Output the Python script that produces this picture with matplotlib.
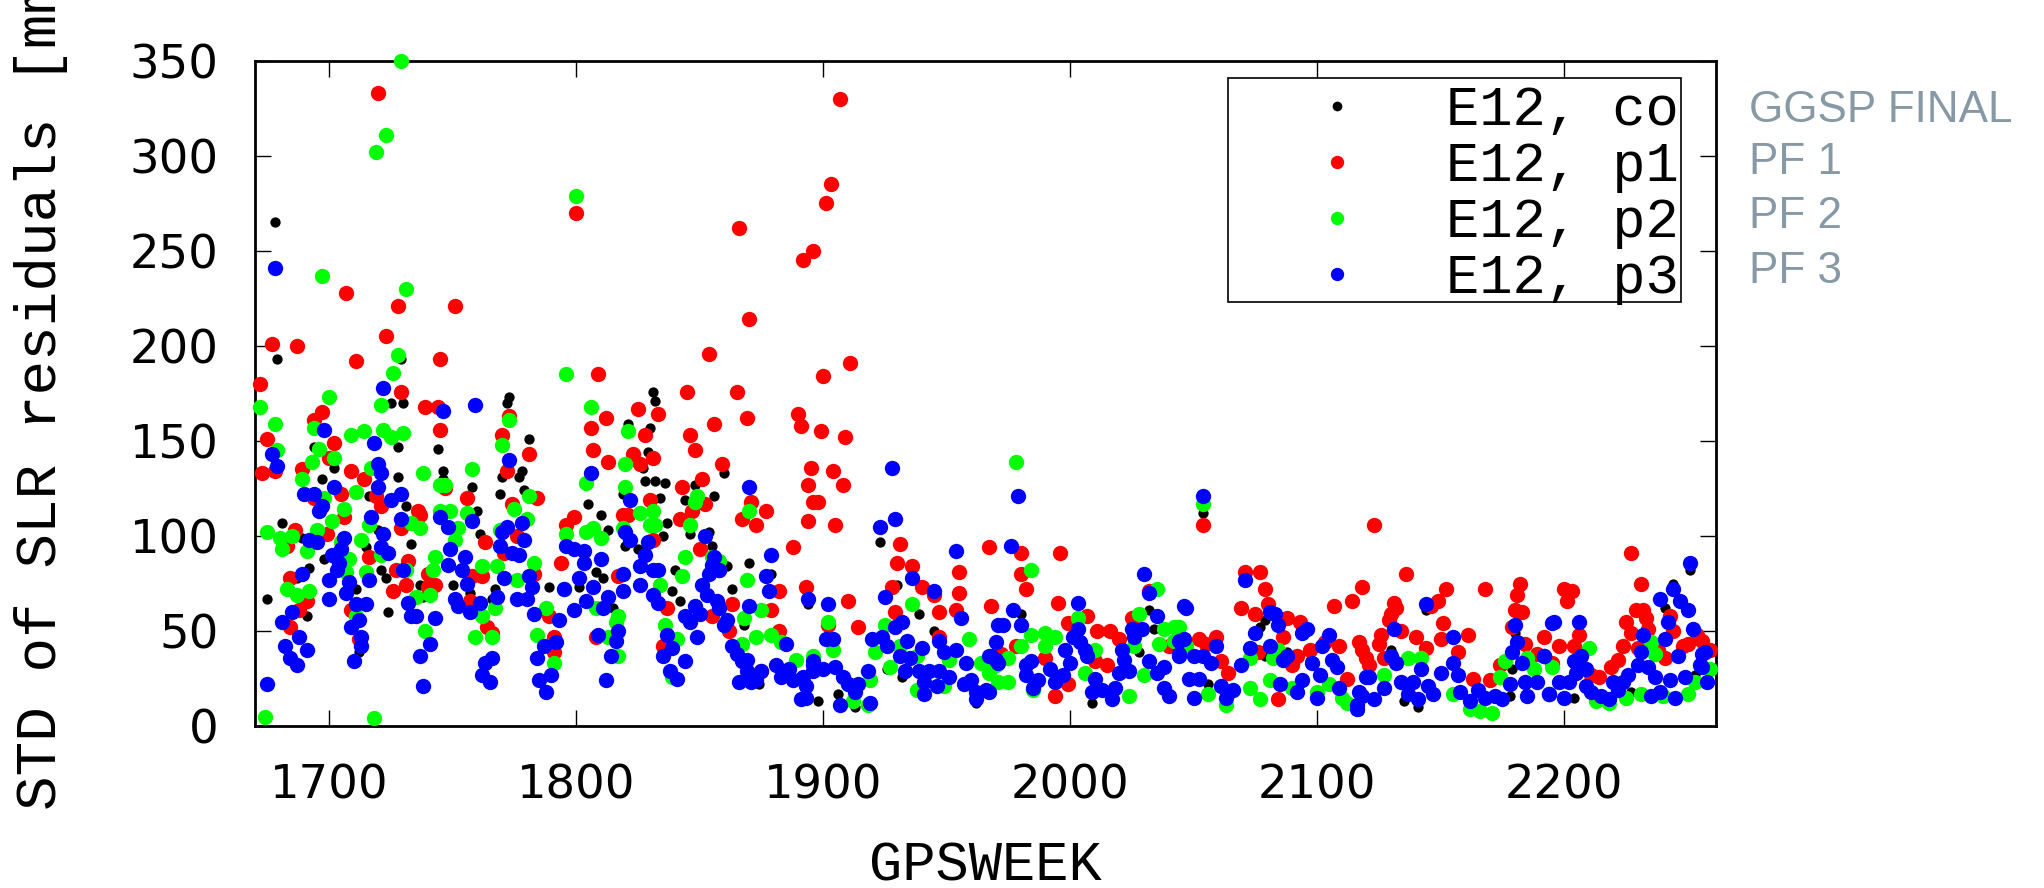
import matplotlib
matplotlib.use("Agg")
import matplotlib.pyplot as plt
from matplotlib.patches import Rectangle
from matplotlib.lines import Line2D

# ---------------- data (GPS week, STD of SLR residuals [mm]) ----------------
co_points = [
    (1678, 265), (1679, 193), (1729, 193), (1725, 170), (1730, 170), (1744, 146), (1728, 147),
    (1694, 147), (1697, 130), (1702, 136), (1728, 131), (1746, 130), (1716, 121), (1681, 107),
    (1689, 99), (1698, 88), (1715, 94), (1720, 103), (1731, 116), (1733, 96), (1721, 82),
    (1723, 78), (1711, 72), (1675, 67), (1724, 60), (1737, 74), (1738, 68), (1712, 39),
    (1691, 58), (1687, 78), (1692, 83),
    (1773, 173), (1772, 170), (1781, 151), (1746, 134), (1758, 126), (1778, 134), (1777, 131),
    (1770, 131), (1821, 159), (1819, 122), (1769, 122), (1805, 117), (1810, 111), (1760, 113),
    (1761, 101), (1779, 124), (1813, 103), (1808, 81), (1811, 78), (1801, 73), (1750, 74),
    (1757, 70), (1767, 72), (1789, 73), (1766, 67), (1815, 62),
    (1831, 176), (1832, 171), (1830, 157), (1829, 144), (1827, 136), (1828, 129), (1832, 129),
    (1836, 128), (1834, 120), (1844, 119), (1848, 127), (1856, 121), (1860, 133), (1837, 107),
    (1835, 100), (1846, 101), (1854, 102), (1855, 95), (1870, 86), (1840, 82), (1861, 84),
    (1839, 71), (1842, 66), (1863, 72), (1868, 53), (1825, 93), (1820, 95), (1879, 80),
    (1894, 64), (1893, 21), (1874, 22),
    (1923, 97), (1930, 74), (1939, 59), (1945, 50), (1926, 30), (1898, 13), (1913, 10),
    (1906, 17), (1932, 26), (1962, 12),
    (1980, 59), (2032, 61), (2028, 39), (2009, 12), (2034, 51),
    (2054, 112), (2079, 56), (2077, 52), (2088, 39), (2097, 34), (2079, 37), (2056, 22),
    (2051, 15), (2116, 8),
    (2144, 61), (2180, 49), (2179, 30), (2141, 10), (2135, 13), (2162, 8), (2178, 16),
    (2130, 40), (2117, 8),
    (2244, 75), (2251, 82), (2241, 62), (2258, 22), (2204, 15), (2253, 27), (2227, 18),
]

p1_points = [
    (1720, 333), (1707, 228), (1728, 221), (1723, 205), (1677, 201), (1687, 200), (1711, 192),
    (1672, 180), (1729, 176), (1697, 165), (1694, 161), (1675, 151), (1702, 149), (1739, 168),
    (1745, 193), (1745, 156), (1673, 133), (1678, 134), (1689, 135), (1709, 134), (1714, 130),
    (1700, 141), (1719, 121), (1705, 122), (1721, 116), (1694, 120), (1736, 113), (1737, 111),
    (1706, 110), (1686, 103), (1699, 101), (1683, 95), (1729, 104), (1716, 89), (1727, 82),
    (1732, 87), (1684, 78), (1740, 80), (1726, 71), (1731, 74), (1691, 66), (1688, 61),
    (1709, 61), (1684, 52), (1740, 73), (1712, 46),
    (1751, 221), (1800, 270), (1809, 185), (1806, 157), (1812, 162), (1807, 145), (1813, 139),
    (1744, 168), (1770, 153), (1773, 163), (1781, 143), (1772, 134), (1747, 125), (1756, 120),
    (1774, 117), (1784, 120), (1763, 97), (1821, 111), (1799, 110), (1796, 106), (1794, 86),
    (1776, 100), (1783, 80), (1771, 91), (1758, 79), (1762, 79), (1757, 66), (1764, 52),
    (1766, 49), (1789, 58), (1791, 47), (1791, 39), (1808, 47), (1817, 79), (1743, 74),
    (1866, 262), (1892, 245), (1896, 250), (1870, 214), (1854, 196), (1845, 176), (1865, 176),
    (1825, 167), (1833, 164), (1890, 164), (1891, 158), (1856, 159), (1869, 162), (1846, 153),
    (1828, 153), (1848, 145), (1823, 143), (1826, 138), (1831, 141), (1859, 138), (1895, 136),
    (1851, 130), (1843, 126), (1894, 127), (1830, 119), (1852, 117), (1871, 118), (1896, 118),
    (1819, 111), (1847, 113), (1877, 113), (1842, 109), (1867, 109), (1873, 106), (1894, 108),
    (1831, 98), (1888, 94), (1850, 93), (1858, 82), (1882, 71), (1893, 73), (1837, 62),
    (1835, 42), (1879, 61), (1882, 50), (1863, 64), (1855, 58), (1862, 50), (1875, 29),
    (1907, 330), (1903, 285), (1901, 275), (1911, 191), (1900, 184), (1899, 155), (1909, 152),
    (1904, 134), (1908, 127), (1898, 118), (1905, 106), (1967, 94), (1931, 96), (1930, 86),
    (1936, 84), (1955, 81), (1928, 73), (1940, 73), (1945, 69), (1955, 70), (1910, 66),
    (1968, 63), (1929, 60), (1947, 60), (1954, 61), (1914, 52), (1902, 53), (1947, 47),
    (1980, 91), (1996, 91), (1980, 80), (1982, 72), (1995, 65), (2007, 58), (1999, 54),
    (2011, 50), (2016, 50), (2020, 46), (2025, 57), (2032, 71), (1990, 36), (2015, 32),
    (1999, 22), (1994, 16), (2040, 42), (1978, 42), (1972, 38), (2010, 34),
    (2054, 106), (2071, 81), (2077, 81), (2079, 72), (2069, 62), (2080, 64), (2088, 57),
    (2093, 55), (2086, 47), (2075, 59), (2107, 63), (2114, 66), (2118, 73), (2117, 44),
    (2052, 46), (2059, 47), (2055, 43), (2097, 40), (2109, 42), (2103, 44), (2092, 37),
    (2061, 34), (2064, 28), (2084, 14), (2076, 39), (2120, 36), (2090, 32), (2112, 25),
    (2123, 106), (2136, 80), (2152, 72), (2168, 72), (2182, 75), (2181, 69), (2131, 65),
    (2132, 62), (2149, 66), (2146, 63), (2130, 59), (2129, 56), (2180, 61), (2183, 60),
    (2151, 54), (2134, 50), (2126, 48), (2125, 43), (2140, 47), (2161, 48), (2150, 46),
    (2179, 52), (2192, 47), (2144, 41), (2118, 40), (2157, 39), (2184, 43), (2121, 32),
    (2174, 32), (2127, 36), (2163, 25), (2170, 24), (2189, 38),
    (2227, 91), (2200, 72), (2203, 71), (2201, 66), (2231, 75), (2229, 61), (2232, 61),
    (2233, 57), (2225, 55), (2234, 51), (2227, 49), (2243, 58), (2244, 50), (2206, 48),
    (2198, 42), (2204, 42), (2224, 42), (2230, 41), (2254, 48), (2256, 45), (2259, 40),
    (2250, 43), (2248, 42), (2238, 40), (2241, 36), (2222, 35), (2219, 31), (2214, 26),
    (2211, 27), (2195, 33),
]

p2_points = [
    (1729, 350), (1723, 311), (1719, 302), (1697, 237), (1731, 230), (1728, 195), (1726, 186),
    (1672, 168), (1700, 173), (1721, 169), (1678, 159), (1694, 157), (1709, 153), (1714, 155),
    (1722, 156), (1725, 152), (1730, 154), (1696, 146), (1679, 145), (1702, 141), (1693, 139),
    (1717, 136), (1738, 133), (1689, 130), (1711, 123), (1745, 127), (1698, 120), (1706, 114),
    (1701, 108), (1675, 102), (1680, 99), (1685, 100), (1695, 103), (1713, 98), (1716, 106),
    (1733, 107), (1737, 104), (1681, 93), (1691, 92), (1708, 88), (1705, 97), (1721, 90),
    (1743, 89), (1742, 82), (1715, 81), (1731, 82), (1707, 81), (1683, 72), (1687, 69),
    (1692, 71), (1741, 69), (1735, 68), (1711, 58), (1739, 50), (1674, 5), (1718, 4),
    (1800, 279), (1796, 185), (1806, 168), (1773, 161), (1770, 148), (1758, 135), (1747, 127),
    (1804, 128), (1821, 155), (1820, 138), (1820, 126), (1781, 121), (1775, 114), (1745, 113),
    (1749, 113), (1756, 112), (1752, 104), (1769, 103), (1780, 109), (1796, 101), (1804, 102),
    (1807, 104), (1810, 99), (1751, 98), (1819, 104), (1762, 84), (1768, 84), (1783, 86),
    (1776, 77), (1795, 72), (1767, 62), (1762, 58), (1759, 47), (1784, 48), (1788, 62),
    (1766, 47), (1816, 55), (1813, 47), (1808, 62), (1791, 33),
    (1831, 113), (1826, 112), (1849, 121), (1848, 118), (1832, 106), (1830, 106), (1846, 106),
    (1844, 89), (1870, 113), (1858, 87), (1855, 89), (1843, 79), (1834, 74), (1869, 77),
    (1875, 61), (1868, 57), (1836, 53), (1841, 46), (1873, 47), (1879, 48), (1867, 43),
    (1883, 44), (1889, 35), (1839, 26), (1817, 58), (1817, 37),
    (1936, 64), (1902, 55), (1925, 53), (1959, 46), (1904, 40), (1921, 39), (1896, 37),
    (1931, 42), (1938, 37), (1951, 35), (1964, 33), (1919, 24), (1910, 22), (1938, 19),
    (1949, 21), (1967, 29), (1970, 32), (1918, 11), (1912, 13), (1927, 31),
    (1978, 139), (1984, 82), (2035, 72), (2003, 57), (2028, 59), (1984, 48), (1990, 49),
    (1994, 47), (2038, 51), (2042, 52), (2010, 40), (1980, 42), (1975, 36), (1971, 23),
    (1975, 23), (2030, 27), (2024, 16), (1985, 19), (1967, 28), (2006, 28), (2036, 43),
    (1990, 42), (2026, 42),
    (2054, 117), (2044, 52), (2042, 45), (2047, 42), (2073, 36), (2084, 40), (2073, 20),
    (2077, 14), (2081, 24), (2056, 17), (2063, 11), (2082, 36), (2090, 20), (2100, 18),
    (2105, 22), (2110, 15), (2112, 12),
    (2137, 36), (2127, 27), (2142, 36), (2176, 34), (2185, 36), (2174, 26), (2155, 17),
    (2162, 9), (2166, 8), (2171, 7), (2188, 30),
    (2210, 41), (2235, 44), (2237, 38), (2259, 30), (2195, 31), (2231, 17), (2225, 15),
    (2218, 12), (2213, 13), (2250, 17), (2253, 23), (2240, 16),
]

p3_points = [
    (1678, 241), (1722, 178), (1698, 156), (1718, 149), (1677, 143), (1679, 137), (1720, 138),
    (1721, 133), (1702, 126), (1720, 126), (1690, 122), (1694, 122), (1725, 119), (1729, 122),
    (1697, 116), (1696, 113), (1745, 110), (1717, 110), (1729, 109), (1706, 99), (1722, 101),
    (1692, 98), (1695, 97), (1705, 93), (1721, 94), (1724, 91), (1701, 90), (1704, 86),
    (1703, 82), (1689, 80), (1730, 82), (1708, 76), (1716, 77), (1700, 77), (1707, 70),
    (1732, 65), (1733, 58), (1711, 64), (1715, 64), (1685, 60), (1735, 58), (1743, 57),
    (1681, 55), (1712, 56), (1709, 52), (1700, 67), (1688, 47), (1713, 47), (1682, 42),
    (1691, 40), (1713, 42), (1684, 36), (1741, 43), (1737, 37), (1687, 32), (1710, 34),
    (1675, 22), (1738, 21),
    (1759, 169), (1746, 166), (1773, 140), (1806, 133), (1748, 105), (1758, 108), (1770, 102),
    (1772, 105), (1778, 107), (1779, 98), (1796, 95), (1799, 93), (1803, 92), (1769, 95),
    (1774, 91), (1777, 90), (1749, 93), (1810, 88), (1755, 89), (1748, 85), (1754, 82),
    (1803, 86), (1820, 102), (1819, 80), (1781, 79), (1771, 78), (1756, 75), (1782, 73),
    (1801, 78), (1807, 73), (1795, 72), (1813, 68), (1819, 71), (1768, 68), (1776, 67),
    (1780, 67), (1804, 66), (1751, 67), (1752, 63), (1757, 60), (1761, 65), (1783, 59),
    (1793, 56), (1799, 61), (1811, 62), (1809, 48), (1817, 50), (1816, 45), (1787, 42),
    (1792, 44), (1784, 36), (1814, 37), (1766, 36), (1763, 33), (1762, 27), (1765, 23),
    (1785, 24), (1788, 18), (1790, 27), (1812, 24),
    (1870, 126), (1822, 119), (1852, 100), (1879, 90), (1877, 79), (1878, 71), (1822, 98),
    (1829, 97), (1828, 90), (1826, 84), (1833, 82), (1831, 82), (1856, 89), (1855, 85),
    (1854, 80), (1858, 82), (1826, 74), (1851, 74), (1831, 69), (1853, 69), (1833, 65),
    (1848, 63), (1857, 66), (1858, 62), (1870, 63), (1894, 67), (1844, 58), (1846, 55),
    (1850, 59), (1861, 56), (1860, 53), (1849, 47), (1837, 48), (1839, 41), (1835, 37),
    (1863, 42), (1865, 38), (1885, 43), (1838, 29), (1844, 34), (1841, 25), (1867, 34),
    (1869, 35), (1875, 29), (1873, 24), (1866, 23), (1881, 32), (1883, 26), (1886, 30),
    (1888, 24), (1892, 26), (1896, 32), (1891, 14), (1893, 21), (1871, 23), (1869, 29),
    (1928, 136), (1929, 109), (1923, 105), (1954, 92), (1936, 78), (1945, 71), (1925, 68),
    (1902, 64), (1956, 57), (1932, 55), (1901, 46), (1904, 46), (1920, 46), (1971, 53),
    (1929, 52), (1924, 47), (1934, 45), (1940, 41), (1947, 45), (1954, 40), (1949, 39),
    (1926, 42), (1931, 37), (1935, 36), (1896, 34), (1905, 31), (1900, 30), (1896, 29),
    (1918, 29), (1933, 29), (1939, 29), (1943, 29), (1947, 29), (1958, 33), (1951, 26),
    (1941, 23), (1946, 21), (1941, 17), (1908, 26), (1910, 22), (1914, 22), (1913, 18),
    (1907, 11), (1919, 12), (1957, 22), (1960, 24), (1962, 18), (1962, 14), (1966, 19),
    (1968, 37), (1970, 35), (1893, 15),
    (1979, 121), (1976, 95), (2030, 80), (2032, 70), (2003, 65), (1977, 61), (2035, 58),
    (2046, 63), (1970, 44), (1973, 53), (1980, 53), (1967, 37), (1971, 33), (1982, 32),
    (1984, 34), (1998, 40), (2000, 33), (2004, 44), (2006, 40), (2007, 37), (2001, 47),
    (2003, 51), (2025, 51), (2029, 51), (2026, 47), (2021, 40), (2022, 35), (2024, 29),
    (2020, 28), (2032, 34), (2038, 31), (2035, 28), (2044, 37), (2044, 45), (2040, 16),
    (2038, 20), (1992, 30), (1994, 23), (1987, 24), (1985, 20), (1982, 27), (1997, 27),
    (2009, 18), (2013, 19), (2017, 14), (2018, 20), (2010, 25), (1967, 18),
    (2054, 121), (2047, 62), (2071, 77), (2081, 60), (2083, 59), (2084, 53), (2096, 51),
    (2094, 49), (2105, 48), (2075, 49), (2102, 42), (2046, 46), (2059, 42), (2073, 41),
    (2081, 42), (2088, 37), (2044, 38), (2050, 37), (2054, 37), (2057, 33), (2069, 32),
    (2086, 35), (2098, 33), (2106, 35), (2108, 31), (2048, 25), (2052, 25), (2061, 21),
    (2066, 19), (2063, 15), (2050, 15), (2085, 22), (2092, 18), (2100, 15), (2109, 20),
    (2116, 11), (2120, 26), (2101, 27), (2094, 24),
    (2144, 64), (2131, 51), (2155, 47), (2180, 53), (2195, 54), (2181, 44), (2179, 39),
    (2192, 37), (2130, 37), (2132, 33), (2142, 30), (2183, 33), (2155, 33), (2121, 26),
    (2150, 28), (2157, 27), (2134, 23), (2139, 23), (2145, 21), (2127, 20), (2118, 16),
    (2123, 14), (2137, 17), (2141, 14), (2147, 17), (2158, 18), (2162, 13), (2165, 19),
    (2168, 15), (2172, 16), (2175, 14), (2178, 22), (2184, 23), (2185, 16), (2189, 23),
    (2194, 17), (2116, 9), (2117, 18),
    (2251, 86), (2244, 72), (2239, 67), (2247, 66), (2250, 61), (2242, 55), (2196, 55),
    (2206, 55), (2252, 51), (2232, 48), (2241, 46), (2192, 37), (2207, 37), (2246, 37),
    (2256, 38), (2257, 39), (2231, 39), (2204, 34), (2230, 32), (2234, 31), (2255, 32),
    (2256, 31), (2205, 28), (2209, 30), (2237, 26), (2243, 24), (2249, 26), (2258, 23),
    (2226, 27), (2224, 23), (2220, 23), (2198, 23), (2202, 23), (2209, 21), (2194, 17),
    (2200, 15), (2211, 18), (2215, 16), (2218, 14), (2222, 19), (2235, 16), (2239, 18),
    (2245, 15),
]

series_labels = ["E12, co", "E12, p1", "E12, p2", "E12, p3"]
side_labels = ["GGSP FINAL", "PF 1", "PF 2", "PF 3"]
x_ticks = [1700, 1800, 1900, 2000, 2100, 2200]
y_ticks = [0, 50, 100, 150, 200, 250, 300, 350]

# ---------------- layout ----------------
W, H = 2044, 888
fig = plt.figure(figsize=(W / 100, H / 100), dpi=100)
fx = lambda x: x / W
fy = lambda y: 1 - y / H

ax = fig.add_axes([fx(255), fy(726), (1716 - 255) / W, (726 - 61) / H])

colors = ["#000000", "#ff0000", "#00ff00", "#0000ff"]
sizes = [55, 122, 122, 122]
for pts, col, s in zip([co_points, p1_points, p2_points, p3_points], colors, sizes):
    wk, val = zip(*pts)
    ax.scatter(wk, val, s=s, c=col, linewidths=0, clip_on=False, zorder=3)

ax.set_xlim(1670, 2261.5)
ax.set_ylim(0, 350)
ax.set_xticks(x_ticks)
ax.set_yticks(y_ticks)
for sp in ax.spines.values():
    sp.set_linewidth(2.0)
ax.tick_params(direction="in", length=11.5, width=1.0, top=True, right=True,
               labelsize=33.5)
ax.tick_params(axis="x", pad=27)
ax.tick_params(axis="y", pad=26)
for lab in ax.get_xticklabels() + ax.get_yticklabels():
    lab.set_fontfamily("DejaVu Sans")

mono = "Liberation Mono"
fig.text(fx(56), fy(377), "STD of SLR residuals [mm]", rotation=90,
         rotation_mode="anchor", ha="center", va="baseline",
         fontfamily=mono, fontsize=41.5)
fig.text(fx(985), fy(880), "GPSWEEK", ha="center", va="baseline",
         fontfamily=mono, fontsize=40)

# legend box (drawn by hand to match the gnuplot key)
fig.add_artist(Rectangle((fx(1228), fy(302)), (1681 - 1228) / W, (302 - 78) / H,
                         transform=fig.transFigure, facecolor="white",
                         edgecolor="black", linewidth=1.2, zorder=5))
row_base = [125, 181, 237, 293]
row_mid = [106, 162, 218, 274]
msizes = [7.0, 9.6, 9.6, 9.6]
for lab, col, yb, ym, ms in zip(series_labels, colors, row_base, row_mid, msizes):
    fig.add_artist(Line2D([fx(1337)], [fy(ym)], transform=fig.transFigure,
                          marker="o", markersize=ms, color=col, markeredgewidth=0,
                          linestyle="none", zorder=6))
    fig.text(fx(1446), fy(yb), lab, ha="left", va="baseline", fontfamily=mono,
             fontsize=40, zorder=6)

side_base = [122, 174, 228, 283]
for lab, yb in zip(side_labels, side_base):
    fig.text(fx(1749), fy(yb), lab, ha="left", va="baseline",
             fontfamily="Liberation Sans", fontsize=31.7, color="#8899a6")

fig.savefig("out.png", dpi=100)
